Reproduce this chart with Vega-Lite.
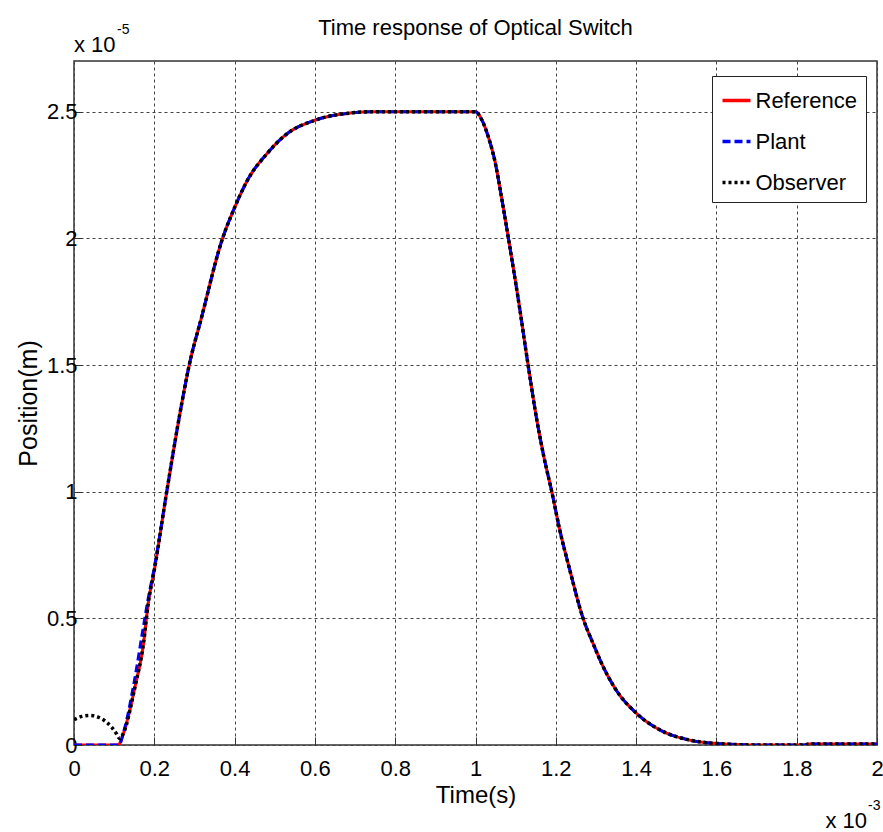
{
  "$schema": "https://vega.github.io/schema/vega-lite/v6.json",
  "width": 803,
  "height": 684,
  "autosize": {"type": "none"},
  "padding": {"left": 74, "top": 61, "right": 6, "bottom": 87},
  "background": "white",
  "config": {
    "font": "Liberation Sans, sans-serif",
    "view": {"stroke": "#333333", "strokeWidth": 1.5},
    "axis": {
      "labelFont": "Liberation Sans, sans-serif",
      "titleFont": "Liberation Sans, sans-serif",
      "labelFontSize": 22,
      "titleFontSize": 24,
      "titleFontWeight": "normal",
      "labelColor": "black",
      "titleColor": "black",
      "domain": false,
      "grid": true,
      "gridColor": "#444444",
      "gridDash": [3, 3],
      "gridOpacity": 1,
      "gridWidth": 1,
      "ticks": true,
      "tickColor": "#333333",
      "tickSize": -8,
      "tickWidth": 1
    }
  },
  "title": {
    "text": "Time response of Optical Switch",
    "font": "Liberation Sans, sans-serif",
    "fontSize": 22,
    "fontWeight": "normal",
    "color": "black",
    "anchor": "middle",
    "frame": "group",
    "baseline": "alphabetic",
    "offset": 0,
    "dy": 34
  },
  "datasets": {
    "curves": [
      {"series": "Reference", "t": 0, "pos": 0},
      {"series": "Reference", "t": 0.11, "pos": 0},
      {"series": "Reference", "t": 0.123, "pos": 0.046},
      {"series": "Reference", "t": 0.152, "pos": 0.23},
      {"series": "Reference", "t": 0.173, "pos": 0.4},
      {"series": "Reference", "t": 0.185, "pos": 0.56},
      {"series": "Reference", "t": 0.2, "pos": 0.69},
      {"series": "Reference", "t": 0.231, "pos": 1.0},
      {"series": "Reference", "t": 0.264, "pos": 1.31},
      {"series": "Reference", "t": 0.287, "pos": 1.5},
      {"series": "Reference", "t": 0.318, "pos": 1.69},
      {"series": "Reference", "t": 0.368, "pos": 1.99},
      {"series": "Reference", "t": 0.401, "pos": 2.125},
      {"series": "Reference", "t": 0.434, "pos": 2.235},
      {"series": "Reference", "t": 0.48, "pos": 2.333},
      {"series": "Reference", "t": 0.53, "pos": 2.412},
      {"series": "Reference", "t": 0.6, "pos": 2.466},
      {"series": "Reference", "t": 0.679, "pos": 2.493},
      {"series": "Reference", "t": 0.75, "pos": 2.5},
      {"series": "Reference", "t": 1.0, "pos": 2.5},
      {"series": "Reference", "t": 1.015, "pos": 2.47},
      {"series": "Reference", "t": 1.032, "pos": 2.4},
      {"series": "Reference", "t": 1.049, "pos": 2.3},
      {"series": "Reference", "t": 1.065, "pos": 2.16},
      {"series": "Reference", "t": 1.082, "pos": 2.0},
      {"series": "Reference", "t": 1.107, "pos": 1.755},
      {"series": "Reference", "t": 1.131, "pos": 1.5},
      {"series": "Reference", "t": 1.152, "pos": 1.29},
      {"series": "Reference", "t": 1.17, "pos": 1.14},
      {"series": "Reference", "t": 1.19, "pos": 1.0},
      {"series": "Reference", "t": 1.21, "pos": 0.848},
      {"series": "Reference", "t": 1.235, "pos": 0.69},
      {"series": "Reference", "t": 1.268, "pos": 0.5},
      {"series": "Reference", "t": 1.293, "pos": 0.4},
      {"series": "Reference", "t": 1.318, "pos": 0.309},
      {"series": "Reference", "t": 1.347, "pos": 0.225},
      {"series": "Reference", "t": 1.401, "pos": 0.125},
      {"series": "Reference", "t": 1.46, "pos": 0.059},
      {"series": "Reference", "t": 1.526, "pos": 0.022},
      {"series": "Reference", "t": 1.601, "pos": 0.006},
      {"series": "Reference", "t": 1.709, "pos": 0},
      {"series": "Reference", "t": 1.82, "pos": 0},
      {"series": "Reference", "t": 1.83, "pos": 0.004},
      {"series": "Reference", "t": 2.0, "pos": 0.004},

      {"series": "Plant", "t": 0, "pos": 0},
      {"series": "Plant", "t": 0.112, "pos": 0},
      {"series": "Plant", "t": 0.125, "pos": 0.06},
      {"series": "Plant", "t": 0.15, "pos": 0.25},
      {"series": "Plant", "t": 0.17, "pos": 0.44},
      {"series": "Plant", "t": 0.185, "pos": 0.58},
      {"series": "Plant", "t": 0.2, "pos": 0.7},
      {"series": "Plant", "t": 0.231, "pos": 1.0},
      {"series": "Plant", "t": 0.264, "pos": 1.31},
      {"series": "Plant", "t": 0.287, "pos": 1.5},
      {"series": "Plant", "t": 0.318, "pos": 1.69},
      {"series": "Plant", "t": 0.368, "pos": 1.99},
      {"series": "Plant", "t": 0.401, "pos": 2.125},
      {"series": "Plant", "t": 0.434, "pos": 2.235},
      {"series": "Plant", "t": 0.48, "pos": 2.333},
      {"series": "Plant", "t": 0.53, "pos": 2.412},
      {"series": "Plant", "t": 0.6, "pos": 2.466},
      {"series": "Plant", "t": 0.679, "pos": 2.493},
      {"series": "Plant", "t": 0.75, "pos": 2.5},
      {"series": "Plant", "t": 1.0, "pos": 2.5},
      {"series": "Plant", "t": 1.015, "pos": 2.47},
      {"series": "Plant", "t": 1.032, "pos": 2.4},
      {"series": "Plant", "t": 1.049, "pos": 2.3},
      {"series": "Plant", "t": 1.065, "pos": 2.16},
      {"series": "Plant", "t": 1.082, "pos": 2.0},
      {"series": "Plant", "t": 1.107, "pos": 1.755},
      {"series": "Plant", "t": 1.131, "pos": 1.5},
      {"series": "Plant", "t": 1.152, "pos": 1.29},
      {"series": "Plant", "t": 1.17, "pos": 1.14},
      {"series": "Plant", "t": 1.19, "pos": 1.0},
      {"series": "Plant", "t": 1.21, "pos": 0.848},
      {"series": "Plant", "t": 1.235, "pos": 0.69},
      {"series": "Plant", "t": 1.268, "pos": 0.5},
      {"series": "Plant", "t": 1.293, "pos": 0.4},
      {"series": "Plant", "t": 1.318, "pos": 0.309},
      {"series": "Plant", "t": 1.347, "pos": 0.225},
      {"series": "Plant", "t": 1.401, "pos": 0.125},
      {"series": "Plant", "t": 1.46, "pos": 0.059},
      {"series": "Plant", "t": 1.526, "pos": 0.022},
      {"series": "Plant", "t": 1.601, "pos": 0.006},
      {"series": "Plant", "t": 1.709, "pos": 0},
      {"series": "Plant", "t": 1.82, "pos": 0},
      {"series": "Plant", "t": 1.83, "pos": 0.004},
      {"series": "Plant", "t": 2.0, "pos": 0.004},

      {"series": "Observer", "t": 0, "pos": 0.1},
      {"series": "Observer", "t": 0.02, "pos": 0.113},
      {"series": "Observer", "t": 0.04, "pos": 0.117},
      {"series": "Observer", "t": 0.06, "pos": 0.11},
      {"series": "Observer", "t": 0.081, "pos": 0.09},
      {"series": "Observer", "t": 0.095, "pos": 0.068},
      {"series": "Observer", "t": 0.106, "pos": 0.044},
      {"series": "Observer", "t": 0.114, "pos": 0.025},
      {"series": "Observer", "t": 0.123, "pos": 0.046},
      {"series": "Observer", "t": 0.152, "pos": 0.23},
      {"series": "Observer", "t": 0.173, "pos": 0.4},
      {"series": "Observer", "t": 0.185, "pos": 0.56},
      {"series": "Observer", "t": 0.2, "pos": 0.69},
      {"series": "Observer", "t": 0.231, "pos": 1.0},
      {"series": "Observer", "t": 0.264, "pos": 1.31},
      {"series": "Observer", "t": 0.287, "pos": 1.5},
      {"series": "Observer", "t": 0.318, "pos": 1.69},
      {"series": "Observer", "t": 0.368, "pos": 1.99},
      {"series": "Observer", "t": 0.401, "pos": 2.125},
      {"series": "Observer", "t": 0.434, "pos": 2.235},
      {"series": "Observer", "t": 0.48, "pos": 2.333},
      {"series": "Observer", "t": 0.53, "pos": 2.412},
      {"series": "Observer", "t": 0.6, "pos": 2.466},
      {"series": "Observer", "t": 0.679, "pos": 2.493},
      {"series": "Observer", "t": 0.75, "pos": 2.5},
      {"series": "Observer", "t": 1.0, "pos": 2.5},
      {"series": "Observer", "t": 1.015, "pos": 2.47},
      {"series": "Observer", "t": 1.032, "pos": 2.4},
      {"series": "Observer", "t": 1.049, "pos": 2.3},
      {"series": "Observer", "t": 1.065, "pos": 2.16},
      {"series": "Observer", "t": 1.082, "pos": 2.0},
      {"series": "Observer", "t": 1.107, "pos": 1.755},
      {"series": "Observer", "t": 1.131, "pos": 1.5},
      {"series": "Observer", "t": 1.152, "pos": 1.29},
      {"series": "Observer", "t": 1.17, "pos": 1.14},
      {"series": "Observer", "t": 1.19, "pos": 1.0},
      {"series": "Observer", "t": 1.21, "pos": 0.848},
      {"series": "Observer", "t": 1.235, "pos": 0.69},
      {"series": "Observer", "t": 1.268, "pos": 0.5},
      {"series": "Observer", "t": 1.293, "pos": 0.4},
      {"series": "Observer", "t": 1.318, "pos": 0.309},
      {"series": "Observer", "t": 1.347, "pos": 0.225},
      {"series": "Observer", "t": 1.401, "pos": 0.125},
      {"series": "Observer", "t": 1.46, "pos": 0.059},
      {"series": "Observer", "t": 1.526, "pos": 0.022},
      {"series": "Observer", "t": 1.601, "pos": 0.006},
      {"series": "Observer", "t": 1.709, "pos": 0},
      {"series": "Observer", "t": 1.82, "pos": 0},
      {"series": "Observer", "t": 1.83, "pos": 0.004},
      {"series": "Observer", "t": 2.0, "pos": 0.004}
    ]
  },
  "layer": [
    {
      "data": {"name": "curves"},
      "transform": [{"filter": "datum.series === 'Reference'"}],
      "mark": {"type": "line", "strokeWidth": 3, "clip": true, "interpolate": "monotone"},
      "encoding": {
        "x": {"field": "t", "type": "quantitative",
              "scale": {"domain": [0, 2], "nice": false, "zero": false},
              "axis": {"values": [0, 0.2, 0.4, 0.6, 0.8, 1, 1.2, 1.4, 1.6, 1.8, 2], "format": "~g",
                       "title": "Time(s)", "labelPadding": 21, "titlePadding": 4, "labelFlush": false}},
        "y": {"field": "pos", "type": "quantitative",
              "scale": {"domain": [0, 2.7], "nice": false, "zero": false},
              "axis": {"values": [0, 0.5, 1, 1.5, 2, 2.5], "format": "~g",
                       "title": "Position(m)", "titleFontSize": 25, "labelPadding": 5, "titlePadding": 5}},
        "color": {"field": "series", "type": "nominal",
                  "scale": {"domain": ["Reference", "Plant", "Observer"], "range": ["#ff0000", "#0000ff", "#000000"]},
                  "legend": {
                    "title": null, "orient": "none", "legendX": 638, "legendY": 15,
                    "symbolType": "stroke", "symbolSize": 784, "symbolStrokeWidth": 3.5,
                    "labelFontSize": 22, "labelColor": "black", "labelOffset": 3,
                    "labelFont": "Liberation Sans, sans-serif",
                    "rowPadding": 14, "padding": 8.5,
                    "strokeColor": "#222222", "fillColor": "white"
                  }},
        "strokeDash": {"field": "series", "type": "nominal",
                       "scale": {"domain": ["Reference", "Plant", "Observer"], "range": [[1, 0], [8, 4], [3, 3]]},
                       "legend": null}
      }
    },
    {
      "data": {"name": "curves"},
      "transform": [{"filter": "datum.series === 'Plant'"}],
      "mark": {"type": "line", "strokeWidth": 3, "clip": true, "interpolate": "monotone"},
      "encoding": {
        "x": {"field": "t", "type": "quantitative"},
        "y": {"field": "pos", "type": "quantitative"},
        "color": {"field": "series", "type": "nominal"},
        "strokeDash": {"field": "series", "type": "nominal"}
      }
    },
    {
      "data": {"name": "curves"},
      "transform": [{"filter": "datum.series === 'Observer'"}],
      "mark": {"type": "line", "strokeWidth": 3.5, "clip": true, "interpolate": "monotone"},
      "encoding": {
        "x": {"field": "t", "type": "quantitative"},
        "y": {"field": "pos", "type": "quantitative"},
        "color": {"field": "series", "type": "nominal"},
        "strokeDash": {"field": "series", "type": "nominal"}
      }
    },
    {
      "data": {"values": [{"label": "x 10"}]},
      "mark": {"type": "text", "align": "left", "baseline": "alphabetic", "dy": -9, "fontSize": 22, "color": "black",
               "font": "Liberation Sans, sans-serif"},
      "encoding": {"x": {"datum": 0}, "y": {"datum": 2.7}, "text": {"field": "label"}}
    },
    {
      "data": {"values": [{"label": "-5"}]},
      "mark": {"type": "text", "align": "left", "baseline": "alphabetic", "dx": 43, "dy": -27, "fontSize": 14, "color": "black",
               "font": "Liberation Sans, sans-serif"},
      "encoding": {"x": {"datum": 0}, "y": {"datum": 2.7}, "text": {"field": "label"}}
    },
    {
      "data": {"values": [{"label": "x 10"}]},
      "mark": {"type": "text", "align": "right", "baseline": "alphabetic", "dx": -10, "dy": 83, "fontSize": 22, "color": "black",
               "font": "Liberation Sans, sans-serif"},
      "encoding": {"x": {"datum": 2}, "y": {"datum": 0}, "text": {"field": "label"}}
    },
    {
      "data": {"values": [{"label": "-3"}]},
      "mark": {"type": "text", "align": "left", "baseline": "alphabetic", "dx": -9, "dy": 65, "fontSize": 14, "color": "black",
               "font": "Liberation Sans, sans-serif"},
      "encoding": {"x": {"datum": 2}, "y": {"datum": 0}, "text": {"field": "label"}}
    }
  ]
}
